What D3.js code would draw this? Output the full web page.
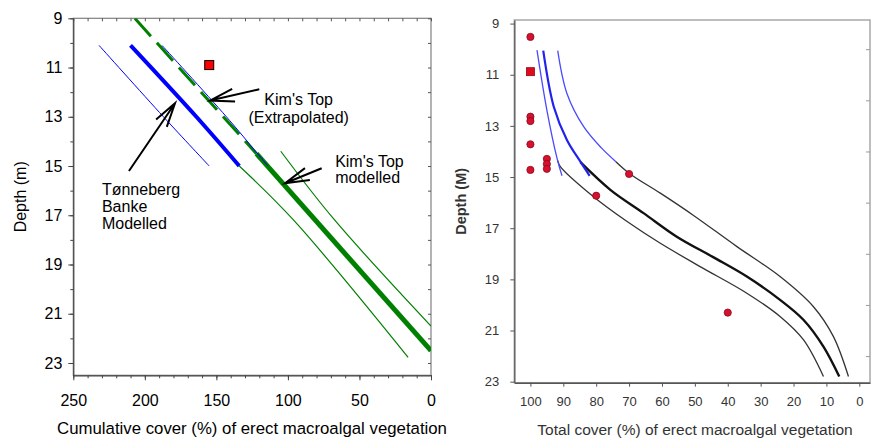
<!DOCTYPE html>
<html><head><meta charset="utf-8">
<script src="https://cdn.jsdelivr.net/npm/d3@7"></script>
<style>body{margin:0;background:#fff}svg{display:block}text{font-family:"Liberation Sans",Arial,sans-serif}</style>
</head><body><svg id="c" width="874" height="442"></svg>
<script>
// ---------- LEFT PANEL DATA: [cumulative cover %, depth m] ----------
const leftXTicks = [250, 200, 150, 100, 50, 0];
const leftYTicks = [9, 11, 13, 15, 17, 19, 21, 23];
const tonnebergModelled = [[210, 10.1], [164, 13], [134, 15]];
const tonnebergLower = [[232, 10.1], [187, 13], [155, 15]];
const tonnebergUpper = [[188, 10.1], [143, 13], [114, 15]];
const kimsTopExtrapolated = [[207, 9], [122, 14.5]];
const kimsTopModelled = [[122, 14.5], [0, 22.5]];
const kimsTopUpper = [[105, 14.4], [68, 17.15], [0, 21.5]];
const kimsTopLower = [[134, 15], [96, 17.2], [16, 22.77]];
const leftSquare = [[155, 10.9]];
const leftLabels = [
  {text: "Kim's Top", x: 92.5, d: 12.52, anchor: "middle"},
  {text: "(Extrapolated)", x: 92.5, d: 13.27, anchor: "middle"},
  {text: "Kim's Top", x: 67, d: 15.02, anchor: "start"},
  {text: "modelled", x: 67, d: 15.7, anchor: "start"},
  {text: "Tønneberg", x: 230, d: 16.17, anchor: "start"},
  {text: "Banke", x: 230, d: 16.88, anchor: "start"},
  {text: "Modelled", x: 230, d: 17.55, anchor: "start"}
];
const leftArrows = [
  {from: [120, 11.88], to: [154.4, 12.34]},
  {from: [76.4, 15.09], to: [102, 15.70]},
  {from: [211.1, 15.2], to: [178.9, 12.45]}
];

// ---------- RIGHT PANEL DATA: [total cover %, depth m] ----------
const rightXTicks = [100, 90, 80, 70, 60, 50, 40, 30, 20, 10, 0];
const rightYTicks = [9, 11, 13, 15, 17, 19, 21, 23];
const blueLower = [[98, 10.04], [95, 12.38], [91.9, 14.27], [90.4, 14.95]];
const blueMid = [[96.1, 10.06], [92.9, 12.25], [88.9, 13.55], [84.8, 14.4], [82, 14.95]];
const blueUpper = [[91.7, 10.06], [88.9, 11.73], [83.8, 13.03], [78.5, 13.85], [74, 14.4]];
const blackLower = [[91.7, 14.36], [90.9, 14.59], [80.8, 15.77], [70.6, 16.74], [60.5, 17.59], [48.4, 18.5], [34.2, 19.54], [24.1, 20.45], [17, 21.36], [10.9, 22.8]];
const blackMid = [[84.8, 14.42], [75.7, 15.5], [65.6, 16.41], [55.5, 17.33], [44.3, 18.14], [34.2, 18.89], [24.1, 19.8], [17, 20.58], [10.9, 21.63], [6.1, 22.8]];
const blackUpper = [[74, 14.4], [69.8, 14.87], [60.5, 15.63], [50.4, 16.5], [37.2, 17.72], [24.1, 18.89], [14, 20.06], [7.9, 21.23], [3.3, 22.8]];
const obsDots = [[100, 9.52], [100, 12.64], [100, 12.81], [100, 13.72], [100, 14.72], [95, 14.29], [95, 14.49], [95, 14.68], [70, 14.88], [80, 15.73], [40, 20.3]];
const obsSquare = [[100, 10.88]];

const svg = d3.select("#c");
svg.append("rect").attr("width", 874).attr("height", 442).attr("fill", "#fff");

// ================= LEFT PANEL =================
const L = {l: 73.3, r: 431, t: 18.3, b: 375.3};
const x1 = d3.scaleLinear().domain([250, 0]).range([L.l, L.r]);
const y1 = d3.scaleLinear().domain([9, 23.5]).range([L.t, L.b]);
const g1 = svg.append("g");
const line1 = d3.line().x(d => x1(d[0])).y(d => y1(d[1])).curve(d3.curveCatmullRom.alpha(0.5));

g1.append("rect").attr("x", L.l).attr("y", L.t).attr("width", L.r - L.l).attr("height", L.b - L.t)
  .attr("fill", "none").attr("stroke", "#808080").attr("stroke-width", 1.2);

const minorX1 = d3.range(0, 251, 10);
const minorY1 = d3.range(9, 23.01, 1);
g1.append("g").attr("transform", `translate(0,${L.t})`)
  .call(d3.axisBottom(x1).tickValues(minorX1).tickSize(3).tickSizeOuter(0).tickFormat(""))
  .call(g => { g.select(".domain").remove(); g.selectAll("line").attr("stroke", "#555"); });
g1.append("g").attr("transform", `translate(${L.r},0)`)
  .call(d3.axisLeft(y1).tickValues(minorY1).tickSize(3).tickSizeOuter(0).tickFormat(""))
  .call(g => { g.select(".domain").remove(); g.selectAll("line").attr("stroke", "#555"); });
g1.append("g").attr("transform", `translate(0,${L.b})`)
  .call(d3.axisBottom(x1).tickValues(minorX1).tickSize(3).tickSizeOuter(0).tickFormat(""))
  .call(g => { g.select(".domain").remove(); g.selectAll("line").attr("stroke", "#444"); });
g1.append("g").attr("transform", `translate(0,${L.b})`)
  .call(d3.axisBottom(x1).tickValues(leftXTicks).tickSize(5).tickPadding(14).tickSizeOuter(0).tickFormat(d3.format("d")))
  .call(g => {
    g.select(".domain").attr("stroke", "#444").attr("stroke-width", 1.2);
    g.selectAll("line").attr("stroke", "#444");
    g.selectAll("text").attr("font-size", 16).attr("fill", "#000");
  });
g1.append("g").attr("transform", `translate(${L.l},0)`)
  .call(d3.axisLeft(y1).tickValues(minorY1).tickSize(3).tickSizeOuter(0).tickFormat(""))
  .call(g => { g.select(".domain").remove(); g.selectAll("line").attr("stroke", "#444"); });
g1.append("g").attr("transform", `translate(${L.l},0)`)
  .call(d3.axisLeft(y1).tickValues(leftYTicks).tickSize(5).tickPadding(6).tickSizeOuter(0).tickFormat(d3.format("d")))
  .call(g => {
    g.select(".domain").attr("stroke", "#444").attr("stroke-width", 1.2);
    g.selectAll("line").attr("stroke", "#444");
    g.selectAll("text").attr("font-size", 16).attr("fill", "#000");
  });

svg.append("clipPath").attr("id", "clip1").append("rect")
  .attr("x", L.l).attr("y", L.t).attr("width", L.r - L.l).attr("height", L.b - L.t);
const p1 = g1.append("g").attr("clip-path", "url(#clip1)");

p1.append("path").attr("d", line1(kimsTopUpper)).attr("fill", "none").attr("stroke", "#008000").attr("stroke-width", 1.2);
p1.append("path").attr("d", line1(kimsTopLower)).attr("fill", "none").attr("stroke", "#008000").attr("stroke-width", 1.2);
p1.append("path").attr("d", line1(kimsTopExtrapolated)).attr("fill", "none").attr("stroke", "#008000")
  .attr("stroke-width", 3).attr("stroke-dasharray", "24,9");
p1.append("path").attr("d", line1(kimsTopModelled)).attr("fill", "none").attr("stroke", "#008000").attr("stroke-width", 5);
p1.append("path").attr("d", line1(tonnebergLower)).attr("fill", "none").attr("stroke", "#0000ff").attr("stroke-width", 1);
p1.append("path").attr("d", line1(tonnebergUpper)).attr("fill", "none").attr("stroke", "#0000ff").attr("stroke-width", 1);
p1.append("path").attr("d", line1(tonnebergModelled)).attr("fill", "none").attr("stroke", "#0000ff").attr("stroke-width", 4);

g1.selectAll(".sq1").data(leftSquare).join("rect")
  .attr("x", d => x1(d[0]) - 4.5).attr("y", d => y1(d[1]) - 4.5).attr("width", 9).attr("height", 9)
  .attr("fill", "#ff0000").attr("stroke", "#000").attr("stroke-width", 1);

g1.selectAll(".lab1").data(leftLabels).join("text")
  .attr("x", d => x1(d.x)).attr("y", d => y1(d.d)).attr("text-anchor", d => d.anchor)
  .attr("font-size", 16).attr("fill", "#000").text(d => d.text);
leftArrows.forEach(a => {
  const tx = x1(a.to[0]), ty = y1(a.to[1]), fx = x1(a.from[0]), fy = y1(a.from[1]);
  const ang = Math.atan2(fy - ty, fx - tx), len = 25, spread = Math.PI / 12;
  const path = d3.path();
  path.moveTo(fx, fy); path.lineTo(tx, ty);
  path.moveTo(tx + len * Math.cos(ang - spread), ty + len * Math.sin(ang - spread)); path.lineTo(tx, ty);
  path.lineTo(tx + len * Math.cos(ang + spread), ty + len * Math.sin(ang + spread));
  g1.append("path").attr("d", path.toString()).attr("fill", "none").attr("stroke", "#000").attr("stroke-width", 2);
});

g1.append("text").attr("x", 252).attr("y", 434).attr("text-anchor", "middle").attr("font-size", 16.8)
  .text("Cumulative cover (%) of erect macroalgal vegetation");
g1.append("text").attr("transform", `translate(26,${(L.t + L.b) / 2}) rotate(-90)`).attr("text-anchor", "middle")
  .attr("font-size", 16).text("Depth (m)");

// ================= RIGHT PANEL =================
const R = {l: 514.3, r: 870, t: 20, b: 382.7};
const x2 = d3.scaleLinear().domain([104.9, -3.25]).range([R.l, R.r]);
const y2 = d3.scaleLinear().domain([8.86, 23.04]).range([R.t, R.b]);
const g2 = svg.append("g");
const line2 = d3.line().x(d => x2(d[0])).y(d => y2(d[1])).curve(d3.curveCatmullRom.alpha(0.5));

g2.append("rect").attr("x", R.l).attr("y", R.t).attr("width", R.r - R.l).attr("height", R.b - R.t)
  .attr("fill", "none").attr("stroke", "#a8a8a8").attr("stroke-width", 1.5);
g2.append("g").attr("transform", `translate(${R.r},0)`)
  .call(d3.axisLeft(y2).tickValues(d3.range(10, 23, 2)).tickSize(4).tickSizeOuter(0).tickFormat(""))
  .call(g => { g.select(".domain").remove(); g.selectAll("line").attr("stroke", "#999"); });
g2.append("g").attr("transform", `translate(0,${R.b})`)
  .call(d3.axisBottom(x2).tickValues(rightXTicks).tickSize(4).tickPadding(10).tickSizeOuter(0).tickFormat(d3.format("d")))
  .call(g => {
    g.select(".domain").attr("stroke", "#555").attr("stroke-width", 1.5);
    g.selectAll("line").attr("stroke", "#555");
    g.selectAll("text").attr("font-size", 13).attr("fill", "#333");
  });
g2.append("g").attr("transform", `translate(${R.l},0)`)
  .call(d3.axisLeft(y2).tickValues(rightYTicks).tickSize(4).tickPadding(11).tickSizeOuter(0).tickFormat(d3.format("d")))
  .call(g => {
    g.select(".domain").attr("stroke", "#666").attr("stroke-width", 1.5);
    g.selectAll("line").attr("stroke", "#555");
    g.selectAll("text").attr("font-size", 13).attr("fill", "#333");
  });

const p2 = g2.append("g");
[blackLower, blackUpper].forEach(s => p2.append("path").attr("d", line2(s)).attr("fill", "none").attr("stroke", "#333").attr("stroke-width", 1.3));
p2.append("path").attr("d", line2(blackMid)).attr("fill", "none").attr("stroke", "#111").attr("stroke-width", 2.4);
[blueLower, blueUpper].forEach(s => p2.append("path").attr("d", line2(s)).attr("fill", "none").attr("stroke", "#4a4aff").attr("stroke-width", 1.3));
p2.append("path").attr("d", line2(blueMid)).attr("fill", "none").attr("stroke", "#2222ee").attr("stroke-width", 2.2);

g2.selectAll(".dot").data(obsDots).join("circle")
  .attr("cx", d => x2(d[0])).attr("cy", d => y2(d[1])).attr("r", 3.6)
  .attr("fill", "#d6102f").attr("stroke", "#8a0a1a").attr("stroke-width", 0.8);
g2.selectAll(".sq2").data(obsSquare).join("rect")
  .attr("x", d => x2(d[0]) - 4).attr("y", d => y2(d[1]) - 4).attr("width", 8).attr("height", 8)
  .attr("fill", "#e00a1a").attr("stroke", "#8a0a1a").attr("stroke-width", 0.8);

g2.append("text").attr("x", 695).attr("y", 435).attr("text-anchor", "middle").attr("font-size", 15.5).attr("fill", "#333")
  .text("Total cover (%) of erect macroalgal vegetation");
g2.append("text").attr("transform", `translate(466,${(R.t + R.b) / 2}) rotate(-90)`).attr("text-anchor", "middle")
  .attr("font-size", 14.5).attr("font-weight", "bold").attr("fill", "#333").text("Depth (M)");
</script></body></html>
